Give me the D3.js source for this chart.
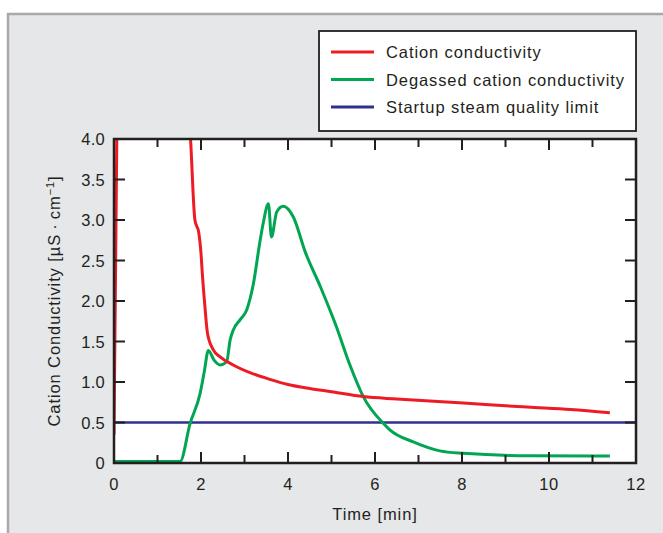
<!DOCTYPE html>
<html>
<head>
<meta charset="utf-8">
<script src="https://cdn.jsdelivr.net/npm/d3@7"></script>
<style>
  body { margin: 0; background: #fff; }
  svg { display: block; font-family: "Liberation Sans", Arial, Helvetica, sans-serif; }
</style>
</head>
<body>
<div id="chart"></div>
<script>
// values
const cationTime = [0, 0.07, 0.5, 1.5, 1.76, 1.86, 1.95, 2.0, 2.03, 2.09, 2.15, 2.28, 2.44, 2.74, 3.2, 3.6, 4.0, 4.5, 5.0, 5.73, 6.5, 8.03, 9.5, 10.5, 11.4];
const cationValue = [0.35, 4.3, 8, 6, 4.0, 3.0, 2.84, 2.59, 2.34, 1.93, 1.6, 1.4, 1.31, 1.21, 1.1, 1.03, 0.97, 0.92, 0.88, 0.82, 0.79, 0.74, 0.69, 0.66, 0.62];

const degassedTime = [0, 1.52, 1.75, 1.98, 2.07, 2.17, 2.3, 2.44, 2.59, 2.67, 2.74, 2.9, 3.05, 3.2, 3.36, 3.43, 3.55, 3.62, 3.74, 3.89, 4.12, 4.4, 4.75, 5.1, 5.43, 5.73, 6.19, 6.34, 6.88, 7.49, 8.03, 9.56, 11.4];
const degassedValue = [0.02, 0.02, 0.49, 0.86, 1.11, 1.39, 1.27, 1.21, 1.25, 1.52, 1.64, 1.77, 1.89, 2.2, 2.75, 2.96, 3.2, 2.79, 3.1, 3.17, 3.04, 2.6, 2.17, 1.7, 1.2, 0.82, 0.49, 0.41, 0.26, 0.15, 0.12, 0.09, 0.087];

const limitTime = [0, 12];
const limitValue = [0.5, 0.5];

const legendLabels = ["Cation conductivity", "Degassed cation conductivity", "Startup steam quality limit"];
const seriesColors = ["#ed1c24", "#00a651", "#2e3192"];

const xTicks = [0, 1, 2, 3, 4, 5, 6, 7, 8, 9, 10, 11, 12];
const yTicks = [0, 0.5, 1, 1.5, 2, 2.5, 3, 3.5, 4];

const width = 663, height = 533;
const plot = { left: 114, right: 636, top: 139, bottom: 463 };
const fontSize = 16.5;
const spacing = 0.9;

const svg = d3.select("#chart").append("svg")
  .attr("width", width)
  .attr("height", height);

// grey panel behind everything
svg.append("rect")
  .attr("x", 8).attr("y", 14)
  .attr("width", width).attr("height", height)
  .attr("fill", "#e6e7e8")
  .attr("stroke", "#a7a9ac")
  .attr("stroke-width", 2.5);

const xScale = d3.scaleLinear().domain([0, 12]).range([plot.left, plot.right]);
const yScale = d3.scaleLinear().domain([0, 4]).range([plot.bottom, plot.top]);

svg.append("rect")
  .attr("x", plot.left).attr("y", plot.top)
  .attr("width", plot.right - plot.left)
  .attr("height", plot.bottom - plot.top)
  .attr("fill", "#fff");

svg.append("clipPath").attr("id", "clip")
  .append("rect")
  .attr("x", plot.left).attr("y", plot.top)
  .attr("width", plot.right - plot.left)
  .attr("height", plot.bottom - plot.top);

const line = d3.line()
  .x((d) => xScale(d[0]))
  .y((d) => yScale(d[1]))
  .curve(d3.curveMonotoneX);

const series = [
  d3.zip(limitTime, limitValue),
  d3.zip(degassedTime, degassedValue),
  d3.zip(cationTime, cationValue),
];
const seriesColorOrder = [seriesColors[2], seriesColors[1], seriesColors[0]];

svg.append("g")
  .attr("clip-path", "url(#clip)")
  .selectAll("path")
  .data(series)
  .enter()
  .append("path")
  .attr("d", (d) => line(d))
  .attr("fill", "none")
  .attr("stroke", (d, i) => seriesColorOrder[i])
  .attr("stroke-width", (d, i) => (i === 0 ? 2.5 : 3))
  .attr("stroke-linejoin", "round");

// ticks, inward on all four sides
const ink = "#231f20";
const tickGroup = svg.append("g").attr("stroke", ink).attr("stroke-width", 2);
xTicks.forEach((t) => {
  const len = t % 2 === 0 ? 11 : 8;
  tickGroup.append("line")
    .attr("x1", xScale(t)).attr("x2", xScale(t))
    .attr("y1", plot.bottom).attr("y2", plot.bottom - len);
  tickGroup.append("line")
    .attr("x1", xScale(t)).attr("x2", xScale(t))
    .attr("y1", plot.top).attr("y2", plot.top + len);
});
yTicks.forEach((t) => {
  tickGroup.append("line")
    .attr("x1", plot.left).attr("x2", plot.left + 11)
    .attr("y1", yScale(t)).attr("y2", yScale(t));
  tickGroup.append("line")
    .attr("x1", plot.right).attr("x2", plot.right - 11)
    .attr("y1", yScale(t)).attr("y2", yScale(t));
});

// frame
svg.append("rect")
  .attr("x", plot.left).attr("y", plot.top)
  .attr("width", plot.right - plot.left)
  .attr("height", plot.bottom - plot.top)
  .attr("fill", "none")
  .attr("stroke", ink)
  .attr("stroke-width", 2.5);

// tick labels
svg.append("g")
  .selectAll("text")
  .data(xTicks.filter((t) => t % 2 === 0))
  .enter()
  .append("text")
  .attr("x", (d) => xScale(d))
  .attr("y", plot.bottom + 27)
  .attr("text-anchor", "middle")
  .attr("font-size", fontSize)
  .attr("letter-spacing", 0.5)
  .attr("fill", ink)
  .text((d) => d);

svg.append("g")
  .selectAll("text")
  .data(yTicks)
  .enter()
  .append("text")
  .attr("x", plot.left - 9)
  .attr("y", (d) => yScale(d) + 6)
  .attr("text-anchor", "end")
  .attr("font-size", fontSize)
  .attr("letter-spacing", 0.3)
  .attr("fill", ink)
  .text((d) => (d === 0 ? "0" : d3.format(".1f")(d)));

// axis titles
svg.append("text")
  .attr("x", (plot.left + plot.right) / 2)
  .attr("y", 520)
  .attr("text-anchor", "middle")
  .attr("font-size", fontSize)
  .attr("letter-spacing", spacing)
  .attr("fill", ink)
  .text("Time [min]");

const yTitle = svg.append("text")
  .attr("transform", `translate(60,${(plot.top + plot.bottom) / 2}) rotate(-90)`)
  .attr("text-anchor", "middle")
  .attr("font-size", fontSize)
  .attr("letter-spacing", spacing)
  .attr("fill", ink);
yTitle.append("tspan").text("Cation Conductivity [µS\u2009·\u2009cm");
yTitle.append("tspan").attr("dy", -6).attr("font-size", 11).text("\u22121");
yTitle.append("tspan").attr("dy", 6).text("]");

// legend
const legend = svg.append("g");
legend.append("rect")
  .attr("x", 319).attr("y", 31)
  .attr("width", 317).attr("height", 100)
  .attr("fill", "#fff")
  .attr("stroke", ink)
  .attr("stroke-width", 1.8);

const legendRows = legend.selectAll("g.row")
  .data(legendLabels)
  .enter()
  .append("g")
  .attr("class", "row")
  .attr("transform", (d, i) => `translate(0,${52 + i * 27.5})`);

legendRows.append("line")
  .attr("x1", 331).attr("x2", 374)
  .attr("y1", 0).attr("y2", 0)
  .attr("stroke", (d, i) => seriesColors[i])
  .attr("stroke-width", 3);

legendRows.append("text")
  .attr("x", 386)
  .attr("y", 6)
  .attr("font-size", fontSize)
  .attr("letter-spacing", spacing)
  .attr("fill", ink)
  .text((d) => d);
</script>
</body>
</html>
